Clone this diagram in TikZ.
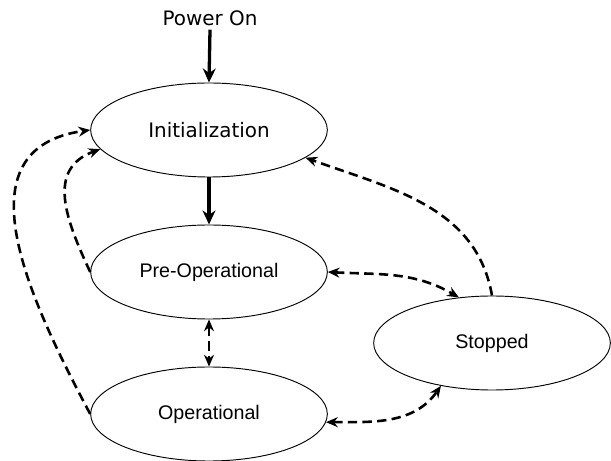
\documentclass[tikz,border=0pt]{standalone}
\usepackage{fontspec}
\setmainfont{Liberation Sans}
\newfontfamily\verdana{DejaVu Sans}
\usetikzlibrary{shapes.geometric, arrows.meta}

\begin{document}
\begin{tikzpicture}[x=0.03cm, y=-0.03cm,
          state/.style={draw, ellipse, line width=0.8pt, inner sep=0pt,
            minimum width=7.1cm, minimum height=2.82cm,
            font=\fontsize{16.8}{20}\selectfont},
          verd/.style={font=\verdana\fontsize{17}{20}\selectfont},
          trans/.style={line width=2.2pt, dash pattern=on 8pt off 4.5pt,
            -{Stealth[length=10pt,width=8.5pt]}},
          both/.style={trans, {Stealth[length=10pt,width=8.5pt]}-{Stealth[length=10pt,width=8.5pt]}},
          main/.style={line width=2.8pt, -{Stealth[length=12pt,width=11pt]}}]
  \useasboundingbox (0,0) rectangle (611,461);

  \node[verd] (power) at (210,18) {Power On};
  \node[state, verd] (init) at (209,130) {Initialization};
  \node[state] (pre) at (209,272) {Pre-Operational};
  \node[state] (op) at (209,414) {Operational};
  \node[state] (stop) at (492,343) {Stopped};

  \draw[main] (power.south) -- (init.north);
  \draw[main] (init.south) -- (pre.north);
  \draw[both] (pre.south) -- (op.north);

  \draw[trans] (pre.west) to[out=115, in=200, looseness=1.2] (init.190);
  \draw[trans] (op.west) to[out=118, in=188, looseness=1.2] (init.west);
  \draw[trans] (stop.north) to[out=100, in=-20] (init.-16);
  \draw[both] (pre.east) to[out=-3, in=150] (stop.126);
  \draw[both] (op.-4) to[out=0, in=235] (stop.220);

\end{tikzpicture}
\end{document}
